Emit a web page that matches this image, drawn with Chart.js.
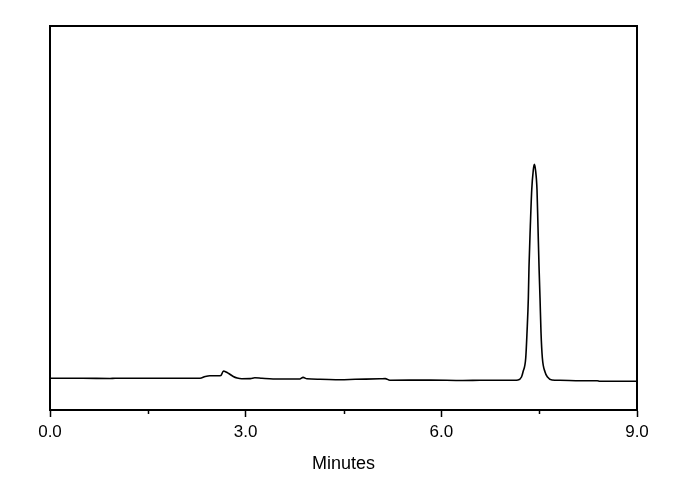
<!DOCTYPE html>
<html>
<head>
<meta charset="utf-8">
<script src="https://cdn.jsdelivr.net/npm/chart.js@4/dist/chart.umd.min.js"></script>
<style>
  html, body { margin: 0; padding: 0; background: #fff; }
  #wrap { width: 688px; height: 490px; }
</style>
</head>
<body>
<div id="wrap"><canvas id="chromatogram"></canvas></div>
<script>
// retention time (min) and detector signal
const times = [0.00, 0.50, 0.92, 1.00, 1.50, 2.00, 2.30, 2.38, 2.45, 2.58, 2.62, 2.66, 2.70, 2.74, 2.81, 2.87,
  2.94, 3.07, 3.14, 3.25, 3.42, 3.83, 3.88, 3.94, 4.14, 4.45, 4.68, 5.06, 5.14, 5.21, 5.83, 6.33, 6.59,
  6.976, 7.114, 7.176, 7.229, 7.252, 7.294, 7.314, 7.334, 7.344, 7.364, 7.386, 7.410, 7.426,
  7.444, 7.467, 7.482, 7.498, 7.513, 7.528, 7.549, 7.590, 7.628, 7.697, 7.820, 8.13, 8.39, 8.43, 9.00];
const signal = [31.7, 31.7, 31.5, 31.7, 31.7, 31.7, 31.7, 33.5, 34.3, 34.2, 34.5, 39.0, 38.0, 36.5, 33.5, 32.0,
  31.3, 31.4, 32.3, 31.7, 31.0, 31.0, 32.6, 31.2, 30.8, 30.3, 30.7, 31.2, 31.4, 29.8, 29.9, 29.5, 29.7,
  29.8, 29.8, 30.0, 33, 38, 52, 78, 112, 143, 183, 220, 240, 245.7,
  240, 220, 183, 143, 112, 78, 52, 38, 33, 30, 29.7, 29.2, 29.3, 28.7, 28.7];

const majorTicks = [0, 3, 6, 9];
const minorTicks = [1.5, 4.5, 7.5];

const points = times.map((t, i) => ({ x: t, y: signal[i] }));

// box around the plot + short minor ticks on the time axis
const framePlugin = {
  id: 'frame',
  afterDraw(chart) {
    const ctx = chart.ctx;
    const a = chart.chartArea;
    const xs = chart.scales.x;
    ctx.save();
    ctx.strokeStyle = '#000';
    ctx.lineWidth = 2;
    ctx.strokeRect(a.left, a.top, a.right - a.left, a.bottom - a.top);
    ctx.lineWidth = 1.5;
    minorTicks.forEach(v => {
      const px = Math.round(xs.getPixelForValue(v)) + 0.5;
      ctx.beginPath();
      ctx.moveTo(px, a.bottom);
      ctx.lineTo(px, a.bottom + 4);
      ctx.stroke();
    });
    ctx.restore();
  }
};

new Chart(document.getElementById('chromatogram'), {
  type: 'line',
  data: {
    datasets: [{
      data: points,
      borderColor: '#000',
      borderWidth: 1.6,
      pointRadius: 0,
      fill: false,
      cubicInterpolationMode: 'monotone'
    }]
  },
  options: {
    responsive: true,
    maintainAspectRatio: false,
    animation: false,
    layout: { padding: { left: 50, right: 51, top: 26, bottom: 15 } },
    plugins: { legend: { display: false }, tooltip: { enabled: false } },
    scales: {
      x: {
        type: 'linear',
        min: 0,
        max: 9,
        afterBuildTicks: scale => { scale.ticks = majorTicks.map(v => ({ value: v })); },
        ticks: {
          color: '#000',
          padding: 5,
          maxRotation: 0,
          font: { family: 'Liberation Sans', size: 17 },
          callback: v => Number(v).toFixed(1)
        },
        grid: { drawOnChartArea: false, color: '#000', tickLength: 7, tickWidth: 1.5 },
        border: { color: '#000', width: 2 },
        title: {
          display: true,
          text: 'Minutes',
          color: '#000',
          font: { family: 'Liberation Sans', size: 18 },
          padding: { top: 6, bottom: 0 }
        }
      },
      y: {
        min: 0,
        max: 384,
        ticks: { display: false },
        grid: { display: false, drawTicks: false },
        border: { color: '#000', width: 2 }
      }
    }
  },
  plugins: [framePlugin]
});
</script>
</body>
</html>
